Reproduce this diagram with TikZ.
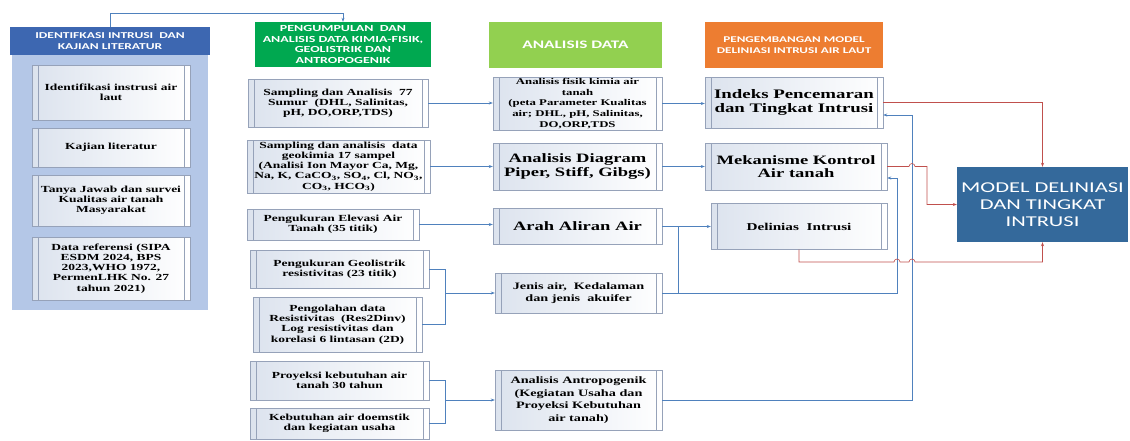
\documentclass[tikz,border=0pt]{standalone}
\usepackage{fontspec}
\setmainfont{Liberation Serif}[FakeStretch=1.45]
\newfontfamily\hdrfont{Carlito}[FakeStretch=1.5]
\usepackage{xcolor}
\usepackage{tikz}
\usetikzlibrary{arrows.meta,calc}

\definecolor{lnblue}{RGB}{79,129,189}
\definecolor{lnred}{RGB}{192,80,77}
\definecolor{boxfill}{RGB}{220,227,238}
\definecolor{boxedge}{RGB}{150,162,185}
\definecolor{panelblue}{RGB}{180,199,231}
\definecolor{hdrblue}{RGB}{61,103,177}
\definecolor{hdrgreen}{RGB}{0,168,80}
\definecolor{hdrlime}{RGB}{146,208,80}
\definecolor{hdrorange}{RGB}{237,125,49}
\definecolor{modelblue}{RGB}{52,105,155}

\newcommand{\fs}[2]{\fontsize{#1}{#2}\selectfont}

\begin{document}
\begin{tikzpicture}[
  x=1pt, y=-1pt,
  font=\bfseries\fs{9.3}{10.2},
  box/.style={draw=boxedge, align=center, inner sep=1pt, left color=boxfill, right color=white,
    path picture={\draw[boxedge]
      ([xshift=6pt]path picture bounding box.north west) -- ([xshift=6pt]path picture bounding box.south west)
      ([xshift=-6pt]path picture bounding box.north east) -- ([xshift=-6pt]path picture bounding box.south east);}},
  hdr/.style={align=center, inner sep=1pt, text=white, font=\hdrfont\bfseries\fs{9.3}{10.4}},
  ln/.style={lnblue, semithick},
  arr/.style={ln, -{Stealth[length=4pt,width=3pt]}},
  rarr/.style={lnred, semithick, -{Stealth[length=4pt,width=3pt]}}
]
  \useasboundingbox (0,0) rectangle (1130,440);

  % kolom 1
  \node[fill=panelblue, minimum width=196, minimum height=255] (panel) at (110,182.5) {};
  \node[hdr, fill=hdrblue, minimum width=200, minimum height=28, font=\hdrfont\bfseries\fs{9}{11.5}] (hdrA) at (110,41) {IDENTIFKASI INTRUSI\ \ DAN\\KAJIAN LITERATUR};
  \node[box, minimum width=158, minimum height=55] (l1) at (111,92.5) {Identifikasi instrusi air\\laut};
  \node[box, minimum width=158, minimum height=39] (l2) at (111,147.5) {Kajian literatur};
  \node[box, minimum width=158, minimum height=51] (l3) at (111,200.5) {Tanya Jawab dan survei\\Kualitas air tanah\\Masyarakat};
  \node[box, minimum width=158, minimum height=63] (l4) at (111,268.5) {Data referensi (SIPA\\ESDM 2024, BPS\\2023,WHO 1972,\\PermenLHK No. 27\\tahun 2021)};

  % kolom 2
  \node[hdr, fill=hdrgreen, minimum width=176, minimum height=45] (hdrB) at (343,44.5) {PENGUMPULAN\ \ DAN\\ANALISIS DATA KIMIA-FISIK,\\GEOLISTRIK DAN\\ANTROPOGENIK};
  \node[box, minimum width=180, minimum height=48] (s1) at (338,103) {Sampling dan Analisis\ \ 77\\Sumur\ \ (DHL, Salinitas,\\pH, DO,ORP,TDS)};
  \node[box, minimum width=183, minimum height=53] (s2) at (338.5,166.5) {Sampling dan analisis\ \ data\\geokimia 17 sampel\\(Analisi Ion Mayor Ca, Mg,\\Na, K, CaCO\textsubscript{3}, SO\textsubscript{4}, Cl, NO\textsubscript{3},\\CO\textsubscript{3}, HCO\textsubscript{3})};
  \node[box, minimum width=172, minimum height=31] (s3) at (333,224.5) {Pengukuran Elevasi Air\\Tanah (35 titik)};
  \node[box, minimum width=179, minimum height=38] (s4) at (339.5,269) {Pengukuran Geolistrik\\resistivitas (23 titik)};
  \node[box, minimum width=169, minimum height=55] (s5) at (337.5,324.5) {Pengolahan data\\Resistivitas\ \ (Res2Dinv)\\Log resistivitas dan\\korelasi 6 lintasan (2D)};
  \node[box, minimum width=179, minimum height=39] (s6) at (339.5,380.5) {Proyeksi kebutuhan air\\tanah 30 tahun};
  \node[box, minimum width=179, minimum height=31] (s7) at (339.5,423.5) {Kebutuhan air doemstik\\dan kegiatan usaha};

  % kolom 3
  \node[hdr, fill=hdrlime, minimum width=173, minimum height=46, font=\hdrfont\bfseries\fs{11.5}{13}] (hdrC) at (575.5,45) {ANALISIS DATA};
  \node[box, minimum width=169, minimum height=53, font=\bfseries\fs{8.8}{10.8}] (a1) at (577.5,103.5) {Analisis fisik kimia air\\tanah\\(peta Parameter Kualitas\\air; DHL, pH, Salinitas,\\DO,ORP,TDS};
  \node[box, minimum width=169, minimum height=47, font=\bfseries\fs{12.8}{13.5}] (a2) at (577.5,166.5) {Analisis Diagram\\Piper, Stiff, Gibgs)};
  \node[box, minimum width=169, minimum height=36, font=\bfseries\fs{12.8}{13.5}] (a3) at (577.5,226.5) {Arah Aliran Air};
  \node[box, minimum width=167, minimum height=40, font=\bfseries\fs{9.8}{12.5}] (a4) at (578.5,293) {Jenis air,\ \ Kedalaman\\dan jenis\ \ akuifer};
  \node[box, minimum width=167, minimum height=60, font=\bfseries\fs{9.8}{12.5}] (a5) at (578.5,400) {Analisis Antropogenik\\(Kegiatan Usaha dan\\Proyeksi Kebutuhan\\air tanah)};

  % kolom 4
  \node[hdr, fill=hdrorange, minimum width=178, minimum height=46, font=\hdrfont\bfseries\fs{8.8}{11}] (hdrD) at (794,45) {PENGEMBANGAN MODEL\\DELINIASI INTRUSI AIR LAUT};
  \node[box, minimum width=178, minimum height=51, font=\bfseries\fs{13}{13.5}] (m1) at (794,102.5) {Indeks Pencemaran\\dan Tingkat Intrusi};
  \node[box, minimum width=182, minimum height=47, font=\bfseries\fs{12.8}{13.5}] (m2) at (796,166.5) {Mekanisme Kontrol\\Air tanah};
  \node[box, minimum width=176, minimum height=46, font=\bfseries\fs{10.5}{12}] (m3) at (799,226.5) {Delinias\ \ Intrusi};

  \node[fill=modelblue, minimum width=171, minimum height=75, align=center, text=white, font=\hdrfont\fs{15}{17}] (model) at (1042.5,204.5) {MODEL DELINIASI\\DAN TINGKAT\\INTRUSI};

  \coordinate (bx) at (445,0);
  \coordinate (jx) at (678,0);
  \coordinate (vA) at (897,0);
  \coordinate (vB) at (912,0);
  \coordinate (vR) at (927,0);
  \coordinate (rb) at (0,262);
  \coordinate (m1in) at ($(m1.east)+(0,12.5)$);
  \coordinate (m2in) at ($(m2.east)+(0,11.5)$);

  \draw[arr] (hdrA.north) -- ++(0,-14) -| (hdrB.north);
  \draw[arr] (s1.east) -- (s1.east -| a1.west);
  \draw[arr] (s2.east) -- (s2.east -| a2.west);
  \draw[arr] (s3.east) -- (s3.east -| a3.west);
  \draw[ln] (s4.east) -- (s4.east -| bx) -- (s5.east -| bx) -- (s5.east);
  \draw[arr] (bx |- a4.west) -- (a4.west);
  \draw[ln] (s6.east) -- (s6.east -| bx) -- (s7.east -| bx) -- (s7.east);
  \draw[arr] (bx |- a5.west) -- (a5.west);

  \draw[arr] (a1.east) -- (a1.east -| m1.west);
  \draw[arr] (a2.east) -- (a2.east -| m2.west);
  \draw[arr] (a3.east) -- (a3.east -| m3.west);
  \draw[ln] (a4.east -| jx) -- (a3.east -| jx);
  \draw[arr] (a4.east) -- (a4.east -| vA) |- (m2in);
  \draw[arr] (a5.east) -- (a5.east -| vB) |- (m1in);

  \draw[rarr] (m1.east) -| (model.north);
  \draw[rarr] (m2.east) -- ($(m2.east -| vB)+(-3,0)$) arc[start angle=180, end angle=0, radius=3pt]
    -- (m2.east -| vR) |- (model.west);
  \draw[rarr] (m3.south) -- (m3.south |- rb)
    -- ($(rb -| vA)+(-3,0)$) arc[start angle=180, end angle=0, radius=3pt]
    -- ($(rb -| vB)+(-3,0)$) arc[start angle=180, end angle=0, radius=3pt]
    -- (rb -| model.south) -- (model.south);
\end{tikzpicture}
\end{document}
